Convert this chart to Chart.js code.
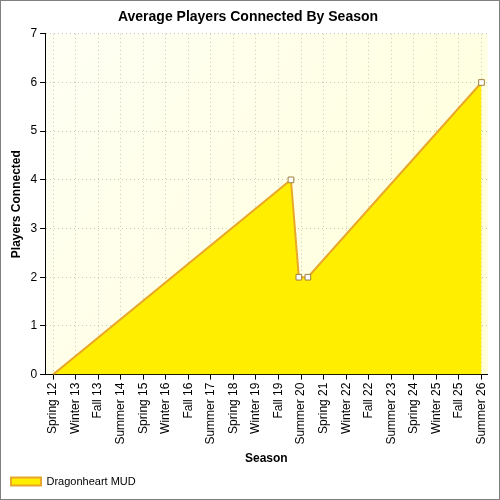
<!DOCTYPE html>
<html>
<head>
<script src="https://cdn.jsdelivr.net/npm/chart.js@4"></script>
<style>
body{margin:0;background:#fff}
#wrap{position:absolute;left:0;top:0;width:498px;height:498px;border:1px solid #808080}
</style>
</head>
<body>
<div id="wrap"><canvas id="myChart" width="498" height="498"></canvas></div>
<script>
const seasons = ["Spring 12","Winter 13","Fall 13","Summer 14","Spring 15","Winter 16","Fall 16","Summer 17","Spring 18","Winter 19","Fall 19","Summer 20","Spring 21","Winter 22","Fall 22","Summer 23","Spring 24","Winter 25","Fall 25","Summer 26"]
// position of each sample along the season axis (0 = Spring 12)
const sampleX = [0, 10.55, 10.9, 11.3, 19]
const players = [0, 4, 2, 2, 6]

const bgPlugin = {
  id: "bg",
  beforeDraw(chart){
    const {ctx, chartArea:a} = chart
    const g = ctx.createLinearGradient(a.left, a.top, a.right, a.bottom)
    g.addColorStop(0, "#fffff4")
    g.addColorStop(1, "#ffffd8")
    ctx.save()
    ctx.fillStyle = g
    ctx.fillRect(a.left, a.top, a.right - a.left, a.bottom - a.top)
    ctx.restore()
  }
}

new Chart("myChart", {
  type: "line",
  plugins: [bgPlugin],
  data: {
    datasets: [{
      label: "Dragonheart MUD",
      data: sampleX.map((x, i) => ({x: x, y: players[i]})),
      borderColor: "#e8a82a",
      borderWidth: 2,
      backgroundColor: "#ffee00",
      fill: "origin",
      tension: 0,
      pointRadius: [0, 4, 4, 4, 4],
      pointStyle: "rect",
      pointBackgroundColor: "#ffffff",
      pointBorderColor: "#a08040",
      pointBorderWidth: 1
    }]
  },
  options: {
    responsive: false,
    animation: false,
    layout: {padding: {left: 4, right: 8, top: 0, bottom: 2}},
    plugins: {
      title: {display: true, text: "Average Players Connected By Season", color: "#000",
        font: {family: "Liberation Sans", size: 14, weight: "bold"}, padding: {top: 8, bottom: 8}},
      legend: {position: "bottom", align: "start",
        labels: {color: "#000", font: {family: "Liberation Sans", size: 11}, boxWidth: 30, boxHeight: 8, padding: 6}},
      tooltip: {enabled: false}
    },
    scales: {
      x: {
        type: "linear", min: -0.354, max: 19.27,
        afterBuildTicks(axis){ axis.ticks = seasons.map((s, i) => ({value: i})) },
        ticks: {autoSkip: false, maxRotation: 90, minRotation: 90, color: "#000",
          font: {family: "Liberation Sans", size: 12},
          callback: (v) => seasons[v]},
        grid: {color: "#c8c8b8", tickColor: "#000", tickLength: 5},
        border: {color: "#000", dash: [1, 3]},
        title: {display: true, text: "Season", color: "#000", font: {family: "Liberation Sans", size: 12, weight: "bold"}}
      },
      y: {
        min: 0, max: 7,
        ticks: {stepSize: 1, color: "#000", font: {family: "Liberation Sans", size: 12}},
        grid: {color: "#c8c8b8", tickColor: "#000", tickLength: 5},
        border: {color: "#000", dash: [1, 3]},
        title: {display: true, text: "Players Connected", color: "#000", font: {family: "Liberation Sans", size: 12, weight: "bold"}}
      }
    }
  }
})
</script>
</body>
</html>
